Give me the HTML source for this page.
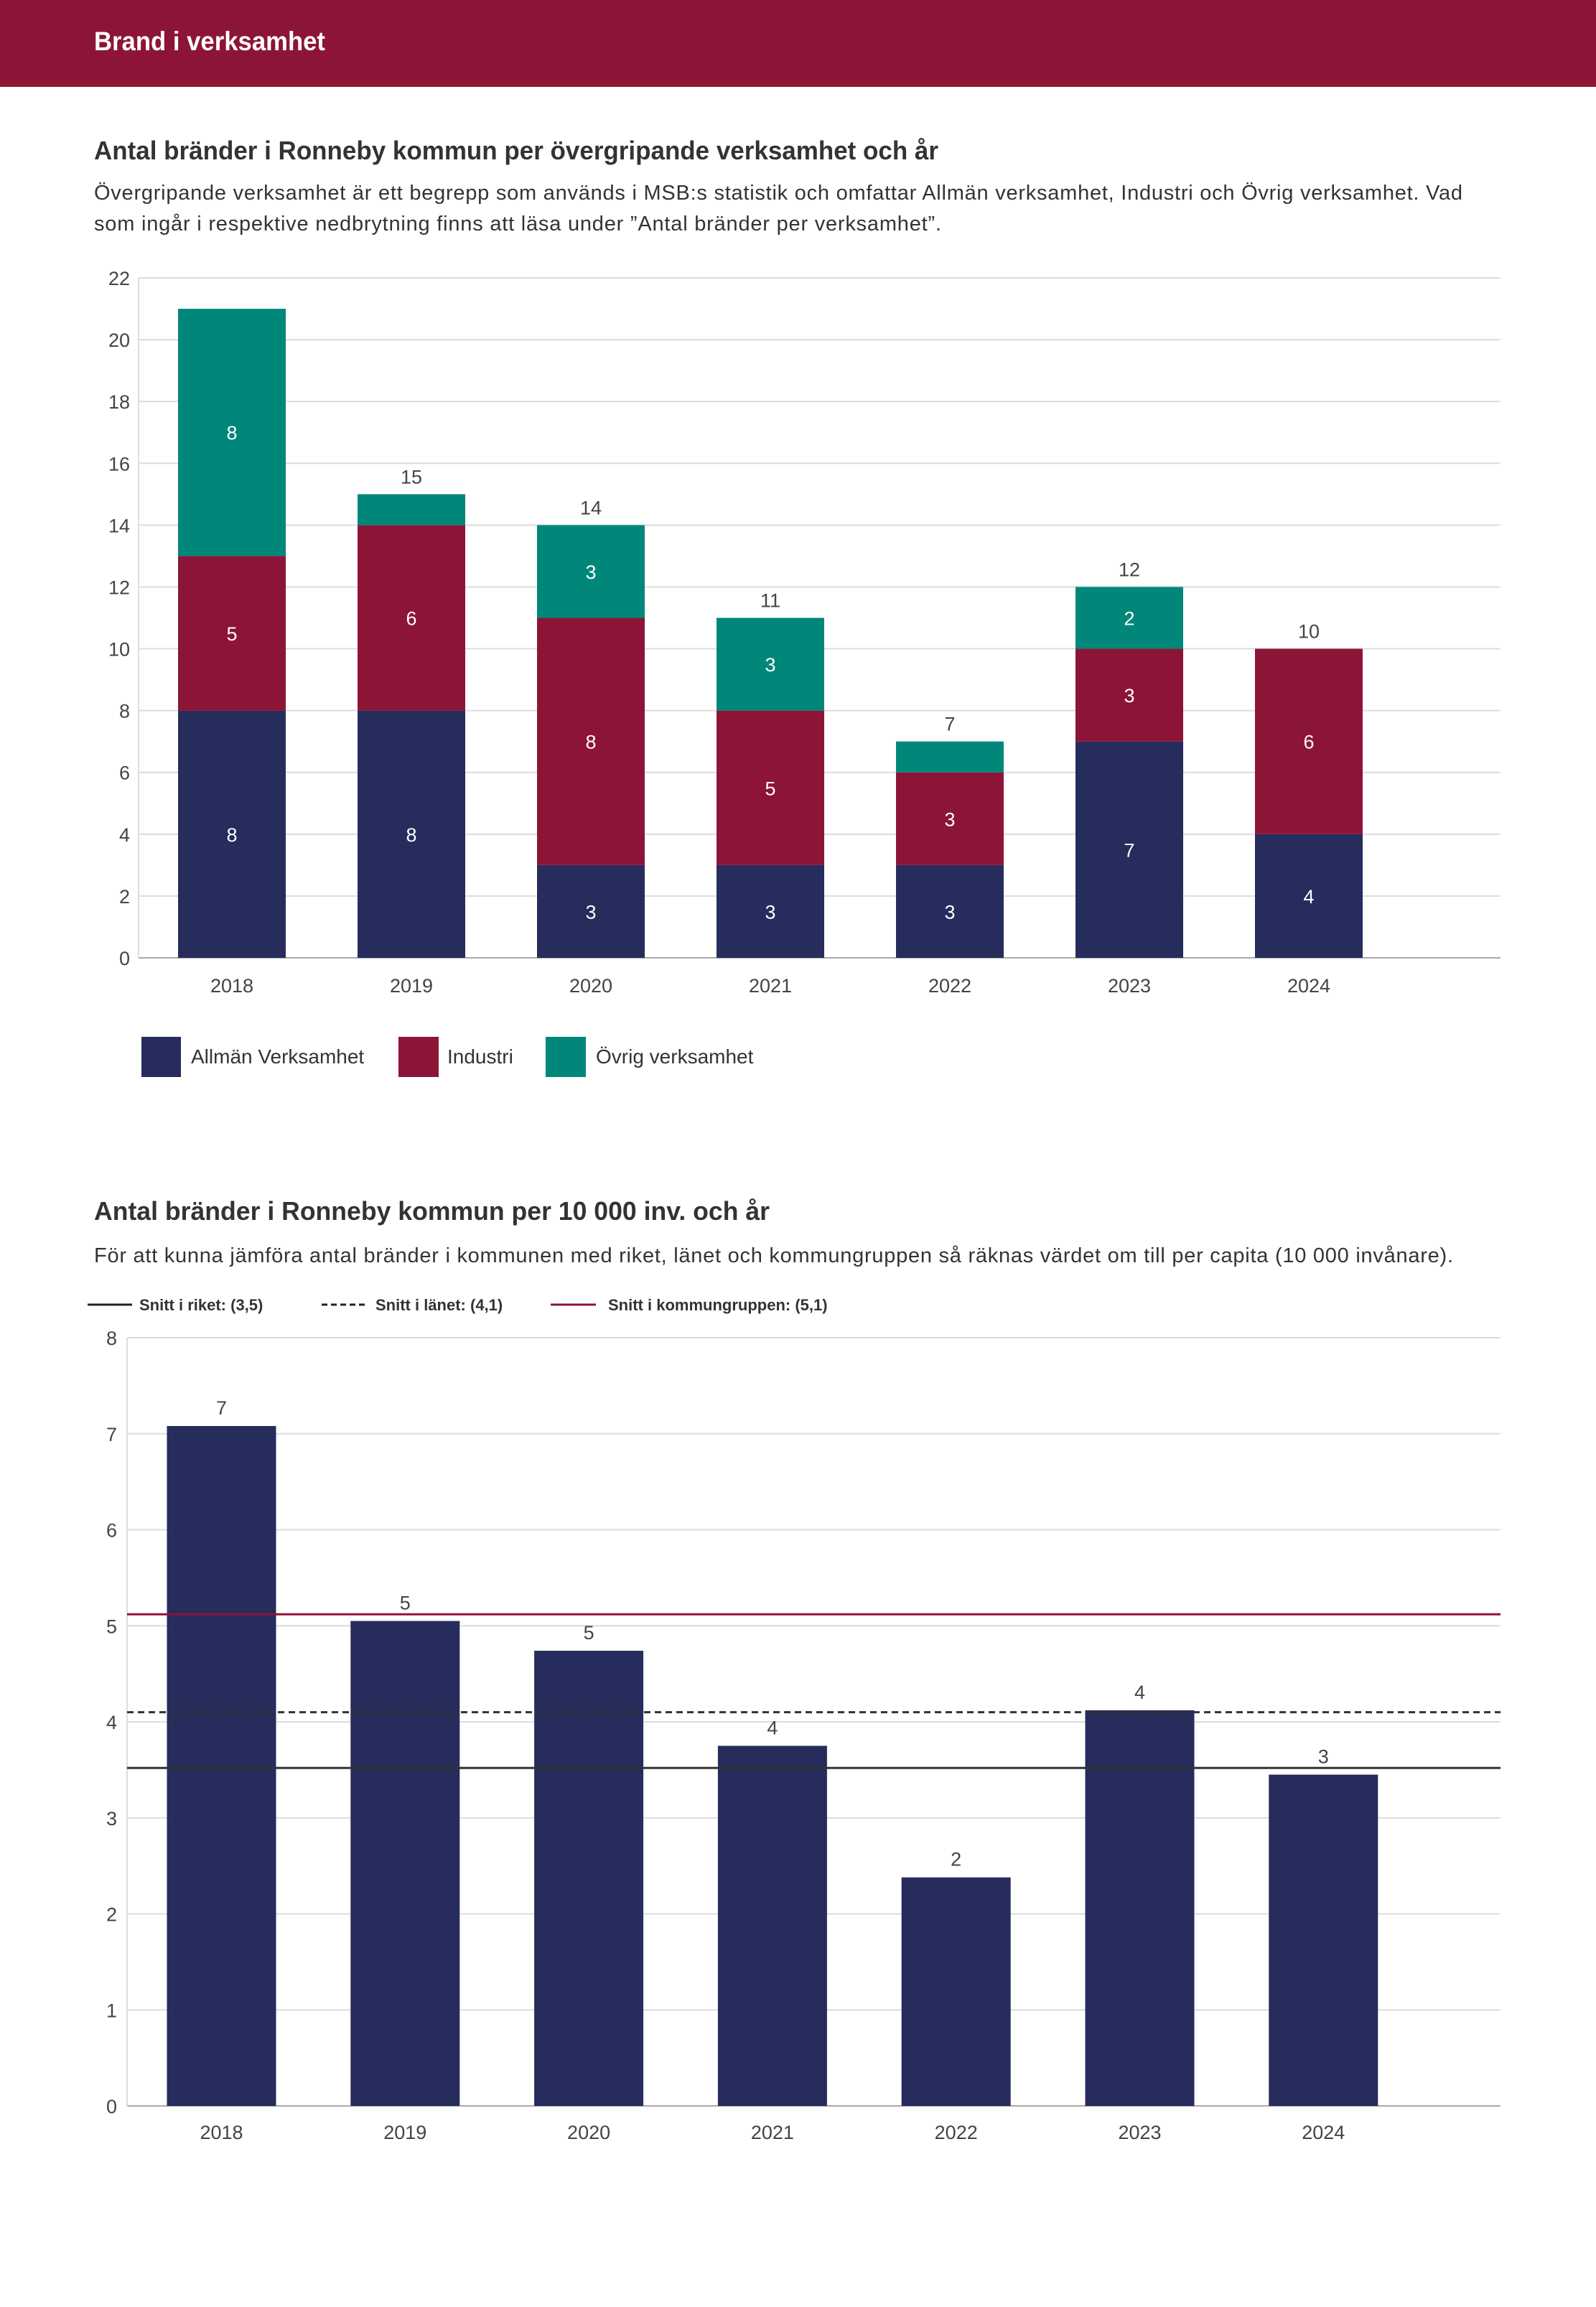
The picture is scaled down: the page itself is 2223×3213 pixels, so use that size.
<!DOCTYPE html>
<html><head><meta charset="utf-8"><style>
body{margin:0;background:#fff;}
svg{display:block;font-family:"Liberation Sans",sans-serif;}
</style></head><body>
<svg id="page" width="2223" height="3213" viewBox="0 0 2223 3213" xmlns="http://www.w3.org/2000/svg">
<rect x="0" y="0" width="2223" height="121" fill="#8c1537"/>
<text x="131" y="70" font-size="37" font-weight="bold" fill="#fff" textLength="322" lengthAdjust="spacingAndGlyphs">Brand i verksamhet</text>
<text x="131" y="222" font-size="36" font-weight="bold" fill="#333" textLength="1176" lengthAdjust="spacingAndGlyphs">Antal bränder i Ronneby kommun per övergripande verksamhet och år</text>
<text x="131" y="278" font-size="29" fill="#333" textLength="1906" lengthAdjust="spacing">Övergripande verksamhet är ett begrepp som används i MSB:s statistik och omfattar Allmän verksamhet, Industri och Övrig verksamhet. Vad</text>
<text x="131" y="321" font-size="29" fill="#333" textLength="1180" lengthAdjust="spacing">som ingår i respektive nedbrytning finns att läsa under ”Antal bränder per verksamhet”.</text>
<g id="c1"></g>
<g>
<rect x="197" y="1444" width="55" height="56" fill="#262c5c"/>
<text x="266" y="1481" font-size="28" fill="#333">Allmän Verksamhet</text>
<rect x="555" y="1444" width="56" height="56" fill="#8c1537"/>
<text x="623" y="1481" font-size="28" fill="#333">Industri</text>
<rect x="760" y="1444" width="56" height="56" fill="#00877a"/>
<text x="830" y="1481" font-size="28" fill="#333">Övrig verksamhet</text>
</g>
<text x="131" y="1699" font-size="36" font-weight="bold" fill="#333" textLength="941" lengthAdjust="spacingAndGlyphs">Antal bränder i Ronneby kommun per 10 000 inv. och år</text>
<text x="131" y="1758" font-size="29" fill="#333" textLength="1893" lengthAdjust="spacing">För att kunna jämföra antal bränder i kommunen med riket, länet och kommungruppen så räknas värdet om till per capita (10 000 invånare).</text>
<g>
<line x1="122" y1="1817" x2="184" y2="1817" stroke="#222" stroke-width="3"/>
<text x="194" y="1825" font-size="22" font-weight="bold" fill="#333">Snitt i riket: (3,5)</text>
<line x1="448" y1="1817" x2="508" y2="1817" stroke="#222" stroke-width="3" stroke-dasharray="8,5"/>
<text x="523" y="1825" font-size="22" font-weight="bold" fill="#333">Snitt i länet: (4,1)</text>
<line x1="767" y1="1817" x2="830" y2="1817" stroke="#8c1537" stroke-width="3"/>
<text x="847" y="1825" font-size="22" font-weight="bold" fill="#333">Snitt i kommungruppen: (5,1)</text>
</g>
<g id="c2"></g>
</svg>
<script>
const years = ["2018","2019","2020","2021","2022","2023","2024"];
const allman = [8,8,3,3,3,7,4];
const industri = [5,6,8,5,3,3,6];
const ovrig = [8,1,3,3,1,2,0];
const yTicks1 = [0,2,4,6,8,10,12,14,16,18,20,22];
const perCapita = [7.08,5.05,4.74,3.75,2.38,4.12,3.45];
const perCapitaLabels = ["7","5","5","4","2","4","3"];
const yTicks2 = [0,1,2,3,4,5,6,7,8];
const avgRiket = 3.52;
const avgLanet = 4.1;
const avgKommungrupp = 5.12;

const NS="http://www.w3.org/2000/svg";
function mk(parent,tag,attrs,txt){const e=document.createElementNS(NS,tag);for(const k in attrs)e.setAttribute(k,attrs[k]);if(txt!==undefined)e.textContent=txt;parent.appendChild(e);return e;}

// Chart 1
(function(){
const g=document.getElementById('c1');
const x0=193,x1=2090,y0=1334,yTop=387,maxV=22;
const ys=v=>y0-(y0-yTop)*v/maxV;
const step=250,first=323,bw=150;
const xc=i=>first+i*step;
yTicks1.forEach(t=>{
 const l=mk(g,'line',{x1:x0,x2:x1,y1:ys(t),y2:ys(t),stroke:t===0?'#aaa':'#dcdcdc','stroke-width':2});
 
 
 const tx=mk(g,'text',{x:181,y:ys(t)+10,'font-size':27,fill:'#444','text-anchor':'end'},t);
 
 
});
const ax=mk(g,'line',{x1:x0,x2:x0,y1:yTop,y2:y0,stroke:'#ddd','stroke-width':2});


const series=[[allman,'#262c5c','allman'],[industri,'#8c1537','industri'],[ovrig,'#00877a','ovrig']];
years.forEach((yr,i)=>{
 let base=0;
 series.forEach(([arr,col,nm])=>{
  const v=arr[i]; if(v<=0)return;
  const r=mk(g,'rect',{x:xc(i)-bw/2,y:ys(base+v),width:bw,height:ys(base)-ys(base+v),fill:col});
  
  
  if(v>=2){
   const t=mk(g,'text',{x:xc(i),y:(ys(base)+ys(base+v))/2+10,'font-size':27,fill:'#fff','text-anchor':'middle'},v);
   
   
  }
  base+=v;
 });
 if(base<=20){
  const t=mk(g,'text',{x:xc(i),y:ys(base)-15,'font-size':27,fill:'#444','text-anchor':'middle'},base);
  
  
 }
 const xl=mk(g,'text',{x:xc(i),y:1382,'font-size':27,fill:'#444','text-anchor':'middle'},yr);
 
 
});
})();

// Chart 2
(function(){
const g=document.getElementById('c2');
const x0=177,x1=2090,y0=2933,yTop=1863,maxV=8;
const ys=v=>y0-(y0-yTop)*v/maxV;
const step=255.8,first=308.5,bw=152;
const xc=i=>first+i*step;
yTicks2.forEach(t=>{
 const l=mk(g,'line',{x1:x0,x2:x1,y1:ys(t),y2:ys(t),stroke:t===0?'#aaa':'#dcdcdc','stroke-width':2});
 
 
 const tx=mk(g,'text',{x:163,y:ys(t)+10,'font-size':27,fill:'#444','text-anchor':'end'},t);
 
 
});
const ax=mk(g,'line',{x1:x0,x2:x0,y1:yTop,y2:y0,stroke:'#ddd','stroke-width':2});


years.forEach((yr,i)=>{
 const v=perCapita[i];
 const r=mk(g,'rect',{x:xc(i)-bw/2,y:ys(v),width:bw,height:y0-ys(v),fill:'#262c5c'});
 
 
 const t=mk(g,'text',{x:xc(i),y:ys(v)-16,'font-size':27,fill:'#444','text-anchor':'middle'},perCapitaLabels[i]);
 
 
 const xl=mk(g,'text',{x:xc(i),y:2979,'font-size':27,fill:'#444','text-anchor':'middle'},yr);
 
 
});
const l1=mk(g,'line',{x1:x0,x2:x1,y1:ys(avgKommungrupp),y2:ys(avgKommungrupp),stroke:'#8c1537','stroke-width':3});


const l2=mk(g,'line',{x1:x0,x2:x1,y1:ys(avgLanet),y2:ys(avgLanet),stroke:'#333','stroke-width':3,'stroke-dasharray':'9,6'});


const l3=mk(g,'line',{x1:x0,x2:x1,y1:ys(avgRiket),y2:ys(avgRiket),stroke:'#333','stroke-width':3});


})();
</script>
</body></html>
